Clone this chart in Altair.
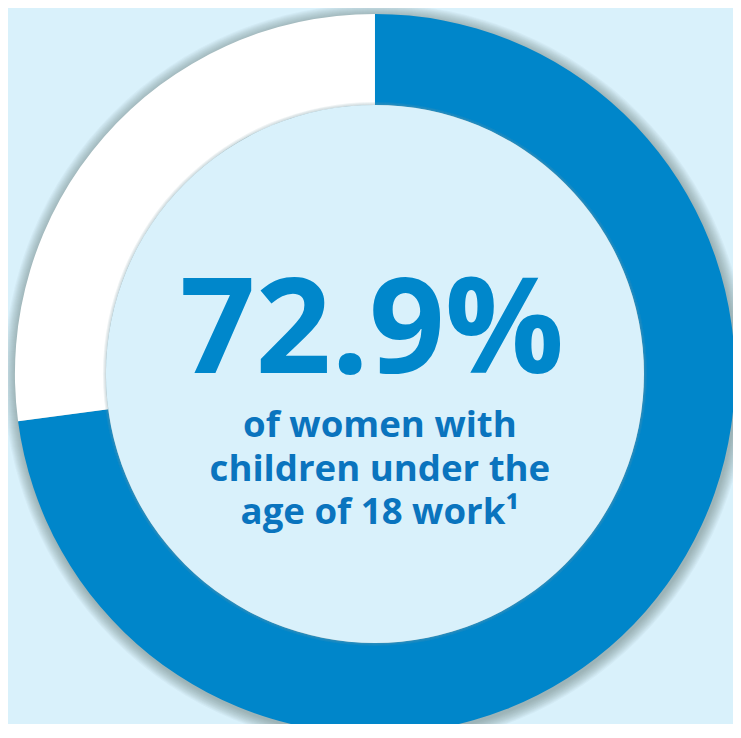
import altair as alt
import pandas as pd
import math

categories = ["Work", "Do not work"]
values = [72.9, 27.1]
colors = ["#0086CA", "#FFFFFF"]

headline = "72.9%"
subtitle_lines = ["of women with", "children under the", "age of 18 work\u00b9"]

BG = "#D9F1FB"
CX, CY = 371, 366
R_OUT, R_IN = 364, 272
TWO_PI = 2 * math.pi

ring_df = pd.DataFrame({"category": categories, "value": values, "order": [0, 1]})

ring = alt.Chart(ring_df).mark_arc(
    outerRadius=R_OUT, innerRadius=R_IN
).encode(
    theta=alt.Theta("value:Q", stack=True),
    order=alt.Order("order:Q"),
    color=alt.Color("category:N", scale=alt.Scale(domain=categories, range=colors), legend=None),
    x=alt.value(CX),
    y=alt.value(CY),
)

one = pd.DataFrame({"v": [1]})

def disc(r_out, r_in, fill, opacity, dx=0, dy=0):
    return alt.Chart(one).mark_arc(
        theta=0, theta2=TWO_PI, outerRadius=r_out, innerRadius=r_in,
        fill=fill, fillOpacity=opacity
    ).encode(x=alt.value(CX + dx), y=alt.value(CY + dy))

# soft shadow around the ring
shadows = [disc(R_OUT + k, 0, "#5f6f78", 0.05, 1, 2) for k in range(12, 0, -1)]

inner_shadow = [disc(R_IN + 3 - k, 0, "#7f9aa8", 0.12) for k in range(3)]
inner = disc(R_IN, 0, BG, 1.0)

head = alt.Chart(pd.DataFrame({"t": [headline]})).mark_text(
    font="Open Sans", fontWeight=700, fontSize=134, color="#0087CB",
    align="center", baseline="alphabetic"
).encode(text="t:N", x=alt.value(CX - 3), y=alt.value(CY - 1))

sub_df = pd.DataFrame({"t": subtitle_lines, "i": [0, 1, 2]})
sub = alt.Chart(sub_df).mark_text(
    font="Open Sans", fontWeight=700, fontSize=37, color="#0A74BE",
    align="center", baseline="alphabetic"
).encode(
    text="t:N",
    x=alt.value(CX + 5),
    y=alt.Y("i:Q", scale=alt.Scale(domain=[0, 2], range=[CY + 64, CY + 152]), axis=None),
)

chart = alt.layer(*shadows, ring, *inner_shadow, inner, head, sub).properties(
    width=733, height=716, padding=0, background=BG,
    autosize=alt.AutoSizeParams(type="none"),
).configure_view(stroke=None)

chart.save("out.html", embed_options={"renderer": "svg", "actions": False})
